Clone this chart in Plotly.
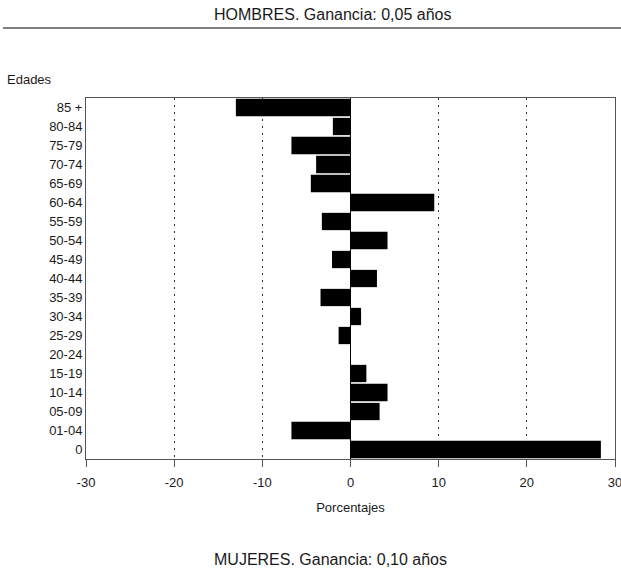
import plotly.graph_objects as go

# ---- data (top to bottom as in the chart) ----
edades = ["85 +", "80-84", "75-79", "70-74", "65-69", "60-64", "55-59", "50-54",
          "45-49", "40-44", "35-39", "30-34", "25-29", "20-24", "15-19", "10-14",
          "05-09", "01-04", "0"]
porcentajes = [-13.0, -2.0, -6.7, -3.9, -4.5, 9.5, -3.25, 4.2,
               -2.1, 3.0, -3.4, 1.2, -1.35, 0.0, 1.8, 4.2,
               3.3, -6.7, 28.4]
x_ticks = [-30, -20, -10, 0, 10, 20, 30]
x_tick_labels = ["-30", "-20", "-10", "0", "10", "20", "30"]

titulo = "HOMBRES. Ganancia: 0,05 años"
subtitulo = "MUJERES. Ganancia: 0,10 años"

# ---- layout geometry ----
W, H = 621, 570
L, R, T, B = 86, 6, 98, 111
PW, PH = W - L - R, H - T - B

def px_x(x):
    return (x - L) / PW

def px_y(y):
    return (H - B - y) / PH

FONT = "Liberation Sans, Arial, sans-serif"
TXT = "#1a1a1a"
LINE = "#555555"

fig = go.Figure(go.Bar(
    x=porcentajes,
    y=edades,
    orientation="h",
    marker=dict(color="black", line=dict(width=0)),
    hoverinfo="x+y",
))

fig.update_layout(
    width=W, height=H,
    margin=dict(l=L, r=R, t=T, b=B, autoexpand=False),
    paper_bgcolor="white",
    plot_bgcolor="white",
    showlegend=False,
    bargap=0.09,
    font=dict(family=FONT, size=13, color=TXT),
    xaxis=dict(
        range=[-30, 30],
        tickvals=x_ticks,
        ticktext=x_tick_labels,
        ticks="outside",
        ticklen=7,
        tickwidth=1,
        tickcolor=LINE,
        ticklabelstandoff=4,
        ticklabeloverflow="allow",
        automargin=False,
        showline=True,
        linecolor=LINE,
        linewidth=1,
        mirror=True,
        showgrid=True,
        gridcolor="#333333",
        gridwidth=1,
        griddash="2px,5px",
        zeroline=True,
        zerolinecolor="black",
        zerolinewidth=1,
        title=dict(text="Porcentajes", font=dict(size=13, color=TXT), standoff=14),
        tickfont=dict(size=13, color=TXT),
        fixedrange=True,
    ),
    yaxis=dict(
        type="category",
        categoryorder="array",
        categoryarray=list(reversed(edades)),
        range=[-0.5, len(edades) - 0.5],
        automargin=False,
        showline=True,
        linecolor=LINE,
        linewidth=1,
        mirror=True,
        ticks="",
        showgrid=False,
        zeroline=False,
        tickfont=dict(size=13, color=TXT),
        fixedrange=True,
    ),
)

fig.add_shape(type="line", xref="paper", yref="paper",
              x0=px_x(3), x1=px_x(621), y0=px_y(28), y1=px_y(28),
              line=dict(color=LINE, width=1.5))

fig.add_annotation(text=titulo, xref="paper", yref="paper",
                   x=px_x(332), y=px_y(15), xanchor="center", yanchor="middle",
                   showarrow=False, font=dict(size=16, color=TXT, family=FONT))
fig.add_annotation(text="Edades", xref="paper", yref="paper",
                   x=px_x(5), y=px_y(79), xanchor="left", yanchor="middle",
                   showarrow=False, font=dict(size=13, color=TXT, family=FONT))
fig.add_annotation(text=subtitulo, xref="paper", yref="paper",
                   x=px_x(330), y=px_y(559), xanchor="center", yanchor="middle",
                   showarrow=False, font=dict(size=16, color=TXT, family=FONT))

fig.write_html("out.html", config={"displayModeBar": False},
               post_script="document.body.style.margin='0';document.body.style.overflow='hidden';")
